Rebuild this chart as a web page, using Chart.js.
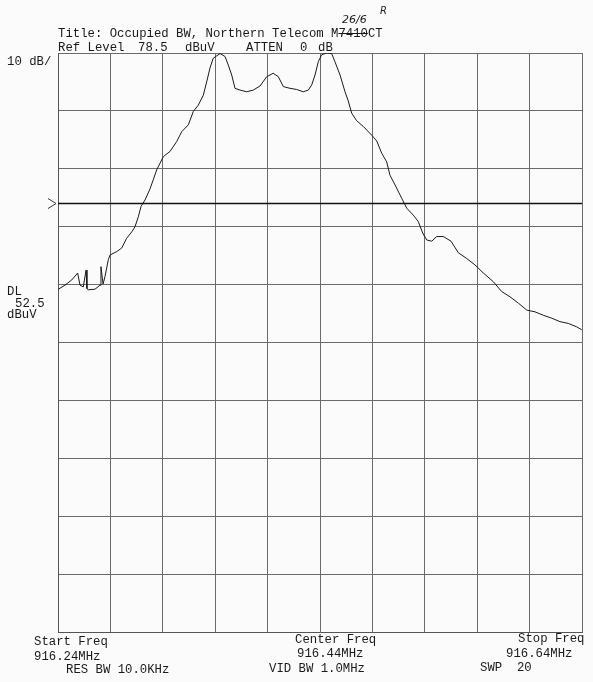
<!DOCTYPE html>
<html>
<head>
<meta charset="utf-8">
<script src="https://cdn.jsdelivr.net/npm/chart.js@4"></script>
<style>
  html, body { margin: 0; padding: 0; background: #fbfbfb; }
  #wrap { position: relative; width: 593px; height: 682px; }
  canvas { position: absolute; left: 0; top: 0; }
  .t { position: absolute; font-family: "Liberation Mono", "DejaVu Sans Mono", monospace;
       font-size: 12.3px; line-height: 14px; color: #1a1a1a; white-space: pre; }
  .hand { position: absolute; font-family: "DejaVu Sans", sans-serif; font-style: italic;
          font-size: 11px; color: #222; white-space: pre; }
  .strike { text-decoration: line-through; }
</style>
</head>
<body>
<div id="wrap">
  <canvas id="spec" width="593" height="682"></canvas>

  <div class="hand" style="left:342px; top:13px;">26/6</div>
  <div class="hand" style="left:380px; top:5px; font-size:10px;">R</div>
  <div class="t" style="left:58px; top:27px;">Title: Occupied BW, Northern Telecom M<span class="strike">7410</span>CT</div>
  <div class="t" style="left:58px; top:40.5px;">Ref Level</div>
  <div class="t" style="left:138px; top:40.5px;">78.5</div>
  <div class="t" style="left:185px; top:40.5px;">dBuV</div>
  <div class="t" style="left:246px; top:40.5px;">ATTEN</div>
  <div class="t" style="left:300px; top:40.5px;">0</div>
  <div class="t" style="left:318px; top:40.5px;">dB</div>

  <div class="t" style="left:7px; top:55px;">10 dB/</div>
  <div class="t" style="left:7px; top:284.5px;">DL</div>
  <div class="t" style="left:15px; top:296.5px;">52.5</div>
  <div class="t" style="left:7px; top:308px;">dBuV</div>

  <div class="t" style="left:34px; top:634.5px;">Start Freq</div>
  <div class="t" style="left:34px; top:649.5px;">916.24MHz</div>
  <div class="t" style="left:66px; top:662.5px;">RES BW 10.0KHz</div>
  <div class="t" style="left:295px; top:632.5px;">Center Freq</div>
  <div class="t" style="left:297px; top:646.5px;">916.44MHz</div>
  <div class="t" style="left:269px; top:661.5px;">VID BW 1.0MHz</div>
  <div class="t" style="left:518px; top:631.5px;">Stop Freq</div>
  <div class="t" style="left:506px; top:646.5px;">916.64MHz</div>
  <div class="t" style="left:480px; top:660.5px;">SWP  20</div>
</div>

<script>
const freqMHz = [
  916.2402, 916.2453, 916.2505, 916.2550, 916.2568, 916.2593, 916.2614, 916.2621, 916.2631, 916.2682,
  916.2721, 916.2728, 916.2744, 916.2759, 916.2784, 916.2797, 916.2848, 916.2886, 916.2924, 916.2963,
  916.2988, 916.3013, 916.3034, 916.3064, 916.3102, 916.3127, 916.3153, 916.3204, 916.3255, 916.3306,
  916.3344, 916.3395, 916.3433, 916.3471, 916.3509, 916.3535, 916.3560, 916.3585, 916.3637, 916.3675,
  916.3700, 916.3726, 916.3751, 916.3789, 916.3840, 916.3891, 916.3942, 916.3993, 916.4043, 916.4082,
  916.4120, 916.4171, 916.4222, 916.4272, 916.4311, 916.4337, 916.4362, 916.4387, 916.4413, 916.4451,
  916.4489, 916.4514, 916.4553, 916.4591, 916.4616, 916.4642, 916.4680, 916.4731, 916.4795, 916.4833,
  916.4871, 916.4909, 916.4934, 916.4973, 916.5024, 916.5062, 916.5112, 916.5150, 916.5184, 916.5215,
  916.5253, 916.5291, 916.5341, 916.5400, 916.5456, 916.5520, 916.5583, 916.5647, 916.5723, 916.5787,
  916.5850, 916.5914, 916.5978, 916.6041, 916.6105, 916.6169, 916.6232, 916.6295, 916.6360, 916.6398
];
const levelDbuV = [
  37.7, 38.4, 39.3, 40.5, 38.4, 38.1, 41.0, 37.8, 37.6, 37.7,
  38.4, 41.6, 38.6, 39.9, 42.8, 43.6, 44.2, 44.8, 46.5, 47.6,
  48.5, 50.2, 52.0, 53.1, 55.0, 56.6, 58.3, 60.6, 61.5, 63.2,
  64.9, 66.1, 68.4, 69.5, 71.2, 73.5, 75.9, 77.6, 78.4, 77.9,
  76.4, 74.7, 72.4, 72.1, 71.8, 72.1, 72.8, 74.4, 75.0, 74.4,
  72.7, 72.4, 72.2, 71.8, 72.1, 73.0, 74.7, 77.0, 78.2, 78.5,
  78.4, 77.0, 74.7, 71.8, 70.2, 68.1, 66.8, 65.8, 64.3, 63.3,
  61.2, 59.7, 57.4, 55.7, 53.4, 51.7, 50.5, 49.4, 47.4, 46.2,
  46.0, 46.8, 46.8, 46.0, 44.0, 43.0, 41.9, 40.5, 39.0, 37.3,
  36.4, 35.3, 34.1, 33.8, 33.2, 32.7, 32.1, 31.8, 31.2, 30.7
];

const xTicks = [916.24, 916.28, 916.32, 916.36, 916.40, 916.44, 916.48, 916.52, 916.56, 916.60, 916.64];
const yTicks = [78.5, 68.5, 58.5, 48.5, 38.5, 28.5, 18.5, 8.5, -1.5, -11.5, -21.5];
const dlLevel = 52.5;

// ligne DL + petit repère ">" à gauche
const displayLine = {
  id: 'displayLine',
  afterDatasetsDraw(chart) {
    const { ctx, chartArea, scales } = chart;
    const y = scales.y.getPixelForValue(dlLevel);
    ctx.save();
    ctx.strokeStyle = '#111';
    ctx.lineWidth = 1.6;
    ctx.beginPath();
    ctx.moveTo(chartArea.left, y);
    ctx.lineTo(chartArea.right, y);
    ctx.stroke();
    ctx.lineWidth = 1;
    ctx.strokeStyle = '#333';
    ctx.beginPath();
    ctx.moveTo(chartArea.left - 10, y - 5);
    ctx.lineTo(chartArea.left - 2, y);
    ctx.lineTo(chartArea.left - 10, y + 5);
    ctx.stroke();
    ctx.restore();
  }
};

new Chart(document.getElementById('spec'), {
  type: 'line',
  data: {
    datasets: [{
      data: freqMHz.map((f, i) => ({ x: f, y: levelDbuV[i] })),
      borderColor: '#1a1a1a',
      borderWidth: 1,
      pointRadius: 0,
      tension: 0,
      fill: false
    }]
  },
  options: {
    responsive: false,
    animation: false,
    layout: { padding: { left: 58, right: 11, top: 53, bottom: 50 } },
    plugins: {
      legend: { display: false },
      tooltip: { enabled: false }
    },
    scales: {
      x: {
        type: 'linear',
        min: xTicks[0],
        max: xTicks[xTicks.length - 1],
        afterBuildTicks: axis => { axis.ticks = xTicks.map(v => ({ value: v })); },
        ticks: { display: false },
        grid: { color: '#6a6a6a', lineWidth: 1, drawTicks: false },
        border: { color: '#555', width: 1 }
      },
      y: {
        min: yTicks[yTicks.length - 1],
        max: yTicks[0],
        afterBuildTicks: axis => { axis.ticks = yTicks.map(v => ({ value: v })); },
        ticks: { display: false },
        grid: { color: '#6a6a6a', lineWidth: 1, drawTicks: false },
        border: { color: '#555', width: 1 }
      }
    }
  },
  plugins: [displayLine]
});
</script>
</body>
</html>
